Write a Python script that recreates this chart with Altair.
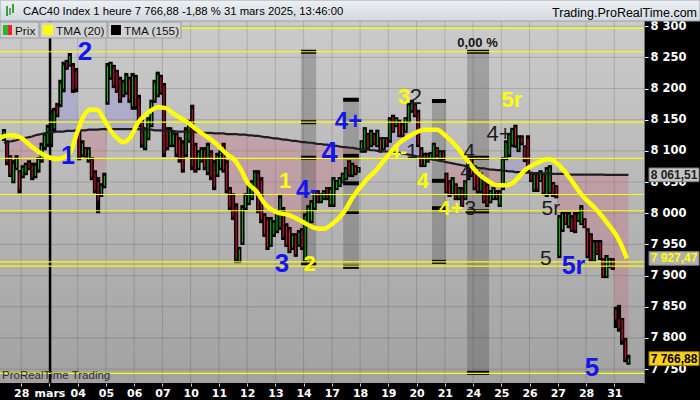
import altair as alt
import pandas as pd

# ---------------------------------------------------------------------------
# CAC40, hourly bars, 27 Feb 2025 (last 6 bars) -> 31 Mar 2025 13:00
# ---------------------------------------------------------------------------
day_labels = ["28", "mars", "04", "05", "06", "07", "10", "11", "12", "13", "14",
              "17", "18", "19", "20", "21", "24", "25", "26", "27", "28", "31"]
bars_per_day = 9
first_bar = -6            # six bars of 27 Feb are still on screen
month_start = 9.2         # 1 March separator

opens = [
    8119, 8113, 8089, 8052, 8073, 8066,
    8060, 8065, 8081, 8076, 8060, 8070, 8085, 8106, 8112,
    8112, 8136, 8172, 8175, 8200, 8242, 8238, 8236, 8228,
    8128, 8094, 8103, 8085, 8086, 8064, 8050, 8030, 8044,
    8178, 8218, 8235, 8226, 8214, 8190, 8194, 8215, 8172,
    8218, 8185, 8145, 8105, 8121, 8142, 8181, 8190, 8218,
    8204, 8134, 8110, 8110, 8125, 8118, 8112, 8095, 8117,
    8168, 8108, 8073, 8085, 8101, 8066, 8097, 8080, 8062,
    8073, 8108, 8080, 8038, 8028, 8010, 7924, 7953, 8009,
    8017, 8025, 8041, 8064, 8052, 7996, 7989, 7950, 7966,
    7972, 7978, 8005, 7980, 7974, 7945, 7964, 7950, 7972,
    7925, 7985, 7988, 8009, 8034, 8019, 8024, 8039, 8014,
    8014, 8040, 8045, 8051, 8056, 8082, 8062, 8074, 8067,
    8100, 8101, 8126, 8109, 8126, 8109, 8119, 8104, 8119,
    8117, 8155, 8141, 8147, 8142, 8132, 8148, 8165, 8174,
    8161, 8102, 8077, 8094, 8088, 8089, 8103, 8088, 8098,
    8061, 8049, 8032, 8045, 8024, 8038, 8024, 8057, 8086,
    8073, 8065, 8036, 8054, 8044, 8019, 8024, 8034, 8014,
    8041, 8089, 8094, 8110, 8138, 8102, 8122, 8106, 8120,
    8063, 8038, 8062, 8053, 8061, 8030, 8033, 8047, 8042,
    7932, 7974, 7999, 7980, 7993, 7998, 7989, 7984, 7989,
    7972, 7964, 7925, 7954, 7953, 7925, 7899, 7915, 7925,
    7845, 7830, 7828, 7795, 7760,
]
highs = [
    8135, 8117, 8093, 8085, 8093, 8069,
    8077, 8081, 8085, 8081, 8081, 8090, 8113, 8129, 8142,
    8166, 8169, 8177, 8214, 8243, 8246, 8257, 8241, 8233,
    8134, 8117, 8106, 8106, 8090, 8069, 8058, 8048, 8065,
    8241, 8243, 8238, 8230, 8219, 8214, 8225, 8219, 8225,
    8222, 8190, 8150, 8138, 8154, 8182, 8214, 8227, 8222,
    8209, 8138, 8138, 8130, 8129, 8122, 8117, 8138, 8150,
    8174, 8113, 8101, 8106, 8106, 8113, 8101, 8085, 8097,
    8101, 8113, 8085, 8042, 8032, 8016, 7946, 8013, 8032,
    8045, 8053, 8069, 8069, 8058, 8000, 7994, 7994, 7989,
    8005, 8029, 8010, 7984, 7978, 7968, 7968, 7973, 7976,
    8000, 8013, 8021, 8037, 8037, 8032, 8037, 8042, 8042,
    8058, 8053, 8058, 8065, 8074, 8085, 8081, 8077, 8074,
    8117, 8138, 8129, 8134, 8129, 8134, 8122, 8122, 8122,
    8154, 8158, 8154, 8150, 8145, 8154, 8177, 8182, 8177,
    8166, 8106, 8097, 8097, 8098, 8113, 8106, 8101, 8101,
    8065, 8053, 8058, 8048, 8042, 8042, 8053, 8090, 8090,
    8077, 8069, 8065, 8058, 8048, 8037, 8042, 8037, 8037,
    8090, 8117, 8129, 8137, 8142, 8125, 8125, 8109, 8125,
    8066, 8065, 8066, 8069, 8065, 8074, 8077, 8050, 8045,
    7997, 8002, 8002, 8002, 7997, 8002, 8002, 8013, 7992,
    7976, 7968, 7957, 7957, 7957, 7928, 7933, 7928, 7928,
    7850, 7853, 7832, 7800, 7773,
]
lows = [
    8116, 8077, 8058, 8048, 8069, 8032,
    8056, 8061, 8069, 8053, 8056, 8065, 8081, 8101, 8106,
    8106, 8130, 8154, 8170, 8194, 8230, 8235, 8193, 8194,
    8085, 8090, 8089, 8081, 8053, 8032, 8000, 8026, 8040,
    8174, 8214, 8201, 8193, 8177, 8186, 8190, 8177, 8166,
    8166, 8138, 8105, 8101, 8117, 8138, 8177, 8186, 8190,
    8090, 8101, 8106, 8106, 8090, 8081, 8065, 8090, 8113,
    8069, 8065, 8069, 8081, 8069, 8061, 8053, 8037, 8058,
    8069, 8065, 8032, 8005, 7989, 7920, 7920, 7949, 8005,
    8013, 8021, 8037, 8000, 7984, 7962, 7941, 7946, 7962,
    7968, 7973, 7957, 7946, 7936, 7941, 7930, 7946, 7941,
    7920, 7981, 7984, 8005, 8016, 8016, 8021, 8021, 8010,
    8010, 8037, 8042, 8048, 8053, 8058, 8058, 8061, 8065,
    8097, 8097, 8101, 8106, 8109, 8106, 8097, 8101, 8106,
    8113, 8129, 8138, 8122, 8122, 8129, 8145, 8161, 8154,
    8106, 8074, 8074, 8081, 8085, 8085, 8090, 8085, 8085,
    8032, 8026, 8029, 8021, 8021, 8010, 8021, 8053, 8058,
    8037, 8032, 8032, 8016, 8010, 8016, 8021, 8021, 8010,
    8037, 8085, 8090, 8106, 8105, 8098, 8109, 8082, 8065,
    8050, 8034, 8034, 8050, 8029, 8026, 8029, 8026, 8024,
    7928, 7970, 7981, 7976, 7970, 7968, 7986, 7981, 7976,
    7928, 7922, 7922, 7933, 7925, 7896, 7896, 7912, 7909,
    7816, 7810, 7789, 7761, 7757,
]
closes = [
    8131, 8082, 8062, 8079, 8088, 8038,
    8073, 8077, 8072, 8058, 8076, 8086, 8108, 8124, 8137,
    8160, 8164, 8158, 8208, 8237, 8234, 8252, 8198, 8200,
    8090, 8112, 8092, 8102, 8058, 8037, 8020, 8044, 8060,
    8236, 8240, 8205, 8197, 8182, 8210, 8220, 8182, 8220,
    8172, 8142, 8110, 8134, 8150, 8177, 8209, 8222, 8194,
    8096, 8106, 8134, 8126, 8095, 8086, 8070, 8133, 8146,
    8075, 8070, 8097, 8102, 8074, 8108, 8058, 8042, 8092,
    8097, 8070, 8037, 8010, 7994, 7926, 7942, 8008, 8028,
    8041, 8049, 8065, 8006, 7990, 7966, 7946, 7989, 7985,
    8000, 8024, 7962, 7950, 7940, 7964, 7934, 7969, 7945,
    7995, 8009, 8017, 8033, 8019, 8029, 8034, 8024, 8038,
    8054, 8050, 8055, 8062, 8071, 8062, 8077, 8064, 8072,
    8114, 8134, 8105, 8130, 8112, 8130, 8100, 8119, 8109,
    8150, 8132, 8151, 8125, 8125, 8151, 8173, 8179, 8157,
    8110, 8078, 8093, 8084, 8095, 8109, 8093, 8098, 8088,
    8036, 8030, 8054, 8024, 8039, 8013, 8049, 8085, 8062,
    8041, 8036, 8061, 8020, 8014, 8034, 8039, 8024, 8033,
    8085, 8113, 8125, 8133, 8109, 8121, 8112, 8086, 8070,
    8053, 8061, 8038, 8066, 8033, 8070, 8073, 8029, 8027,
    7993, 7998, 7984, 7998, 7973, 7972, 7999, 8009, 7979,
    7932, 7926, 7953, 7936, 7928, 7899, 7929, 7925, 7912,
    7830, 7815, 7795, 7765, 7766.88,
]
# TMA (155), one value per bar
tma155 = [
    8113, 8114, 8115, 8116, 8117, 8119,
    8120, 8121, 8122, 8123, 8125, 8126, 8127, 8128, 8129,
    8130, 8130, 8131, 8131, 8131, 8132, 8132, 8132, 8133,
    8133, 8133, 8133, 8134, 8134, 8134, 8134, 8135, 8135,
    8135, 8135, 8135, 8135, 8135, 8135, 8135, 8135, 8135,
    8135, 8135, 8134, 8134, 8134, 8134, 8133, 8133, 8133,
    8132, 8132, 8132, 8132, 8131, 8131, 8131, 8131, 8130,
    8130, 8130, 8130, 8129, 8129, 8129, 8129, 8128, 8128,
    8128, 8128, 8127, 8127, 8127, 8127, 8126, 8126, 8126,
    8125, 8125, 8124, 8124, 8123, 8122, 8122, 8121, 8120,
    8120, 8119, 8118, 8118, 8117, 8116, 8116, 8115, 8114,
    8114, 8113, 8113, 8112, 8111, 8111, 8110, 8110, 8109,
    8108, 8108, 8107, 8106, 8106, 8105, 8105, 8104, 8103,
    8103, 8102, 8102, 8101, 8101, 8100, 8100, 8099, 8099,
    8098, 8098, 8097, 8097, 8096, 8095, 8094, 8093, 8092,
    8091, 8090, 8089, 8088, 8087, 8086, 8085, 8084, 8083,
    8082, 8081, 8080, 8079, 8078, 8077, 8076, 8075, 8075,
    8074, 8073, 8072, 8072, 8071, 8070, 8070, 8069, 8069,
    8068, 8068, 8067, 8067, 8066, 8066, 8066, 8065, 8065,
    8065, 8064, 8064, 8064, 8064, 8063, 8063, 8063, 8063,
    8063, 8063, 8063, 8062, 8062, 8062, 8062, 8062, 8062,
    8062, 8062, 8062, 8062, 8062, 8062, 8061.5, 8061.5, 8061.5,
    8061.5, 8061.5, 8061.5, 8061.5, 8061.51,
]
# TMA (20) read at bar positions
tma20_t = [-6.8, -3.6, -0.4, 2.8, 6.0, 9.2, 11.7, 14.0, 15.6, 17.8, 19.7, 21.9,
           24.2, 26.1, 28.3, 30.5, 32.4, 34.7, 37.2, 40.4, 43.6, 45.8, 49.0, 53.2,
           57.3, 61.8, 65.9, 68.1, 70.1, 72.3, 74.8, 78.0, 81.2, 85.3, 89.8, 93.9,
           96.2, 99.4, 102.6, 105.7, 109.9, 113.1, 116.3, 119.7, 124.2, 128.4,
           132.5, 135.7, 138.9, 142.1, 145.2, 148.4, 151.6, 154.8, 157.0, 160.5,
           165.0, 168.2, 171.4, 174.6, 178.7, 182.9, 187.3, 190.5, 193.0]
tma20_v = [8121, 8125, 8122, 8109, 8097, 8089, 8087, 8090, 8097, 8129, 8154, 8166,
           8166, 8153, 8134, 8121, 8114, 8121, 8145, 8161, 8170, 8169, 8158, 8145,
           8129, 8113, 8093, 8085, 8069, 8048, 8036, 8013, 8002, 7997, 7986, 7976,
           7975, 7984, 8000, 8026, 8053, 8069, 8089, 8109, 8125, 8134,
           8134, 8122, 8106, 8085, 8066, 8053, 8045, 8045, 8050, 8069,
           8082, 8087, 8077, 8058, 8029, 8008, 7981, 7957, 7927.47]

# horizontal support / resistance levels
levels = [8297, 8259, 8146, 8088, 8030, 8004, 7922, 7915, 7743]

# shaded zones: start bar, end bar, top price, bottom price
zone_t0 = [89.2, 102.6, 130.9, 142.1]
zone_t1 = [94.0, 107.6, 135.4, 149.1]
zone_top = [8259, 8182, 8180, 8259]
zone_bot = [7919, 7914, 7922, 7744]
# markers inside zones: zone index, price
mark_zone = [0, 0, 0, 0, 1, 1, 1, 1, 1, 2, 2, 2, 2, 3, 3, 3, 3]
mark_p = [8259, 8146, 8089, 7919, 8182, 8092, 8048, 8002, 7914,
          8180, 8052, 8008, 7922, 8259, 8089, 8003, 7744]

# wave counts
wave_text = ["2", "1", "4+", "4", "4-", "3", "5r", "5",
             "1", "2", "3", "4", "4+", "5r", "4-",
             "2", "1", "4", "4", "3", "4+", "5r", "5"]
wave_t = [20.3, 14.9, 104.3, 98.3, 91.1, 83.1, 176.0, 181.9,
          84.1, 91.9, 122.0, 128.0, 136.9, 156.4, 120.0,
          125.8, 124.6, 142.8, 141.8, 143.1, 152.3, 168.8, 167.2]
wave_p = [8258, 8092, 8147, 8096, 8037, 7919, 7915, 7751,
          8052, 7919, 8186, 8052, 8006, 8182, 8098,
          8186, 8098, 8098, 8066, 8006, 8127, 8006, 7927]
wave_color = ["#1414f0"] * 8 + ["#ffff00"] * 7 + ["#1c1c1c"] * 8
wave_size = [26, 25, 24, 29, 25, 26, 25, 26,
             22, 22, 22, 22, 21, 22, 21,
             22, 21, 21, 21, 21, 22, 21, 21]
wave_bold = [True] * 15 + [False] * 8

y_ticks = list(range(7750, 8301, 50))
tag_p = [8061.51, 7927.47, 7766.88]
tag_text = ["8 061,51", "7 927,47", "7 766,88"]
tag_fill = ["#c4c4c4", "#b0b0b0", "#ffd21a"]
tag_stroke = ["#7a7a7a", "#7a7a7a", "#9a7a00"]
tag_ink = ["#202020", "#ffff00", "#000000"]

# ---------------------------------------------------------------------------
W, H = 644, 362
XS = alt.Scale(domain=[-6.756, 198.47], nice=False, zero=False)
YS = alt.Scale(domain=[7727.7, 8308.3], nice=False, zero=False)
FONT = "Liberation Sans"

x_axis = alt.Axis(values=[k * bars_per_day for k in range(len(day_labels))],
                  labelExpr="[" + ",".join("'%s'" % d for d in day_labels) + "][round(datum.value/9)]",
                  grid=False, domain=False, ticks=True, tickColor="#d0d0d0", tickSize=3,
                  labelColor="white", labelFont="DejaVu Sans", labelFontWeight="bold",
                  labelFontSize=11, labelPadding=1, labelOverlap=False, title=None)
y_axis = alt.Axis(orient="right", values=y_ticks,
                  labelExpr="replace(format(datum.value, ','), ',', ' ')",
                  grid=False, domain=True, domainColor="#777777", tickColor="white",
                  tickSize=4, labelColor="white", labelFont="DejaVu Sans",
                  labelFontWeight="bold", labelFontSize=11.5, labelPadding=2,
                  labelOverlap=False, title=None)


def X(field):
    return alt.X(field, type="quantitative", scale=XS, axis=x_axis)


def Y(field):
    return alt.Y(field, type="quantitative", scale=YS, axis=y_axis)


n = len(closes)
bars = pd.DataFrame({
    "t": [first_bar + k + 0.5 for k in range(n)],
    "o": opens, "h": highs, "l": lows, "c": closes, "m": tma155,
})
bars["col"] = ["#19d219" if c >= o else "#ff1a40" for o, c in zip(opens, closes)]

one = pd.DataFrame({"k": [0]})

# plot background
bg = alt.Chart(one).mark_rect(
    color=alt.LinearGradient(gradient="linear", x1=0, x2=0, y1=0, y2=1,
                             stops=[alt.GradientStop(color="#cbcbcb", offset=0),
                                    alt.GradientStop(color="#a2a2a2", offset=1)])
).encode(x=alt.value(0), x2=alt.value(W), y=alt.value(0), y2=alt.value(H))

grid_h = alt.Chart(pd.DataFrame({"p": y_ticks})).mark_rule(
    color="black", opacity=0.14, strokeWidth=1).encode(y=Y("p"))
grid_v = alt.Chart(pd.DataFrame({"t": [k * bars_per_day for k in range(len(day_labels))]})).mark_rule(
    color="black", opacity=0.14, strokeWidth=1).encode(x=X("t"))

# fill between price and TMA(155)
fill_up = alt.Chart(bars).transform_calculate(
    up="max(datum.c, datum.m)").mark_area(color="#8a80dc", opacity=0.32).encode(
    x=X("t"), y=Y("up"), y2="m:Q")
fill_dn = alt.Chart(bars).transform_calculate(
    dn="min(datum.c, datum.m)").mark_area(color="#c66478", opacity=0.3).encode(
    x=X("t"), y=Y("dn"), y2="m:Q")

zones = pd.DataFrame({"t0": zone_t0, "t1": zone_t1, "top": zone_top, "bot": zone_bot})
zone_rect = alt.Chart(zones).mark_rect(color="#3c3c3c", opacity=0.28).encode(
    x=X("t0"), x2="t1:Q", y=Y("bot"), y2="top:Q")
zmarks = pd.DataFrame({"t0": [zone_t0[z] for z in mark_zone],
                       "t1": [zone_t1[z] for z in mark_zone], "p": mark_p})
zone_mark = alt.Chart(zmarks).mark_rule(color="black", strokeWidth=4).encode(
    x=X("t0"), x2="t1:Q", y=Y("p"))

# candles: black high-low bar, thin coloured open-close line inside
wick = alt.Chart(bars).mark_rule(color="black", strokeWidth=4.2).encode(
    x=X("t"), y=Y("l"), y2="h:Q")
body = alt.Chart(bars).mark_rule(strokeWidth=0.9).encode(
    x=X("t"), y=Y("o"), y2="c:Q", color=alt.Color("col:N", scale=None))

sep = alt.Chart(pd.DataFrame({"t": [month_start]})).mark_rule(
    color="black", strokeWidth=2.5).encode(x=X("t"))

line155 = alt.Chart(bars).mark_line(color="#1e1e1e", strokeWidth=2.2).encode(
    x=X("t"), y=Y("m"))
line20 = alt.Chart(pd.DataFrame({"t": tma20_t, "v": tma20_v})).mark_line(
    color="#ffff00", strokeWidth=4.5, interpolate="monotone").encode(x=X("t"), y=Y("v"))

lvl = alt.Chart(pd.DataFrame({"p": levels})).mark_rule(
    color="#ffff00", strokeWidth=1.2).encode(y=Y("p"))

waves = pd.DataFrame({"txt": wave_text, "t": wave_t, "p": wave_p,
                      "col": wave_color, "sz": wave_size, "b": wave_bold})
wave_b = alt.Chart(waves[waves.b]).mark_text(
    font=FONT, fontWeight="bold", align="center", baseline="middle").encode(
    x=X("t"), y=Y("p"), text="txt:N", color=alt.Color("col:N", scale=None),
    size=alt.Size("sz:Q", scale=None))
wave_n = alt.Chart(waves[~waves.b]).mark_text(
    font=FONT, align="center", baseline="middle").encode(
    x=X("t"), y=Y("p"), text="txt:N", color=alt.Color("col:N", scale=None),
    size=alt.Size("sz:Q", scale=None))

pct = alt.Chart(pd.DataFrame({"t": [145.4], "p": [8273], "txt": ["0,00 %"]})).mark_text(
    font=FONT, fontWeight="bold", fontSize=13, color="#151515", baseline="middle").encode(
    x=X("t"), y=Y("p"), text="txt:N")

# price tags on the right scale
tags = pd.DataFrame({"p": tag_p, "txt": tag_text, "f": tag_fill, "s": tag_stroke, "ink": tag_ink})
tags["a"] = tags.p - 11
tags["b"] = tags.p + 11
tag_box = alt.Chart(tags).mark_rect(strokeWidth=1).encode(
    x=alt.value(649), x2=alt.value(699), y=Y("a"), y2="b:Q",
    color=alt.Color("f:N", scale=None), stroke=alt.Stroke("s:N", scale=None))
tag_txt = alt.Chart(tags).mark_text(font=FONT, fontSize=12, fontWeight="bold",
                                    align="center", baseline="middle").encode(
    x=alt.value(674), y=Y("p"), text="txt:N", color=alt.Color("ink:N", scale=None))

# header strip
header = alt.Chart(one).mark_rect(
    color=alt.LinearGradient(gradient="linear", x1=0, x2=0, y1=0, y2=1,
                             stops=[alt.GradientStop(color="#eef1f4", offset=0),
                                    alt.GradientStop(color="#d2d8de", offset=1)]),
    stroke="#9aa3ad", strokeWidth=1).encode(
    x=alt.value(0), x2=alt.value(700), y=alt.value(-21), y2=alt.value(0))
title = alt.Chart(one).mark_text(
    text="CAC40 Index 1 heure 7 766,88 -1,88 % 31 mars 2025, 13:46:00",
    font=FONT, fontSize=11.3, color="#000000", align="left",
    baseline="middle").encode(x=alt.value(23), y=alt.value(-9.5))
brand = alt.Chart(one).mark_text(
    text="Trading.ProRealTime.com", font=FONT, fontSize=12.5, color="#000000",
    align="right", baseline="middle").encode(x=alt.value(697), y=alt.value(-8.5))
icon1 = alt.Chart(one).mark_rect(color="#2aa82a").encode(
    x=alt.value(6), x2=alt.value(8), y=alt.value(-15), y2=alt.value(-5))
icon2 = alt.Chart(one).mark_rect(color="#2aa82a").encode(
    x=alt.value(12), x2=alt.value(14), y=alt.value(-17), y2=alt.value(-8))
icon3 = alt.Chart(one).mark_rect(color="#8a8a8a").encode(
    x=alt.value(9), x2=alt.value(11), y=alt.value(-13), y2=alt.value(-6))

# legend row
legend_layers = []
for x0, x1 in [(0, 39), (40, 107), (108, 181)]:
    legend_layers.append(alt.Chart(one).mark_rect(
        color="#d3d3d3", stroke="#9c9c9c", strokeWidth=1).encode(
        x=alt.value(x0), x2=alt.value(x1), y=alt.value(1), y2=alt.value(17)))
for a, b, c in [(3, 8, "#2bb52b"), (8, 12, "#ee2233"), (43, 53, "#ffff00"), (111, 121, "#000000")]:
    legend_layers.append(alt.Chart(one).mark_rect(color=c).encode(
        x=alt.value(a), x2=alt.value(b), y=alt.value(4), y2=alt.value(14)))
for x, txt in [(15, "Prix"), (56, "TMA (20)"), (124, "TMA (155)")]:
    legend_layers.append(alt.Chart(one).mark_text(
        text=txt, font=FONT, fontSize=11.8, color="#111111", align="left",
        baseline="middle").encode(x=alt.value(x), y=alt.value(9.5)))

watermark = alt.Chart(one).mark_text(
    text="ProRealTime Trading", font=FONT, fontSize=11.5, color="#303030",
    align="left", baseline="middle").encode(x=alt.value(2), y=alt.value(355))

chart = alt.layer(
    bg, grid_h, grid_v, fill_up, fill_dn, zone_rect, zone_mark,
    wick, body, sep, line155, lvl, line20, wave_b, wave_n, pct,
    tag_box, tag_txt, header, icon1, icon2, icon3, title, brand,
    *legend_layers, watermark,
).properties(
    width=W, height=H,
    padding={"left": 0, "top": 21, "right": 56, "bottom": 17},
    autosize=alt.AutoSizeParams(type="none"),
    background="#000000",
).configure_view(stroke="transparent")

chart.save("out.html", embed_options={"renderer": "svg", "actions": False})
